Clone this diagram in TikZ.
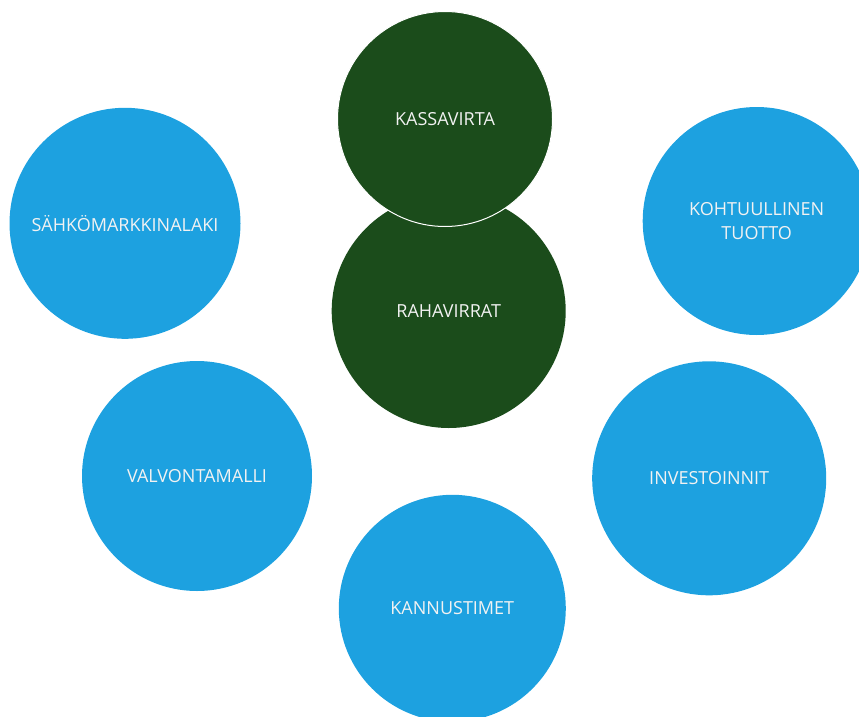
\documentclass[tikz,border=0pt]{standalone}
\usepackage{fontspec}
\setmainfont{Open Sans}
\definecolor{topicblue}{RGB}{29,161,224}
\definecolor{flowgreen}{RGB}{27,76,27}
\definecolor{labelwhite}{RGB}{242,242,242}
\begin{document}
\begin{tikzpicture}[x=1pt,y=-1pt,
  bubble/.style={circle,inner sep=0pt,text=labelwhite,align=center,
    font=\fontsize{18}{24}\selectfont},
  topic/.style={bubble,fill=topicblue},
  flow/.style={bubble,fill=flowgreen}]
\useasboundingbox (0,0) rectangle (859,717);
\clip (0,0) rectangle (859,717);
% central cash-flow pair
\node[flow,minimum size=234pt] (raha) at (448.7,311) {RAHAVIRRAT};
\node[flow,minimum size=215pt,draw=white,line width=1pt] (kassa) at (445,119) {KASSAVIRTA};
% surrounding topics
\node[topic,minimum size=231pt] (laki) at (125,223.3) {SÄHKÖMARKKINALAKI};
\node[topic,minimum size=228pt] (tuotto) at (756.7,221) {KOHTUULLINEN\\TUOTTO};
\node[topic,minimum size=230pt] (malli) at (197,476) {VALVONTAMALLI};
\node[topic,minimum size=234pt] (invest) at (709.2,478.3) {INVESTOINNIT};
\node[topic,minimum size=227pt] (kannus) at (452.3,608.3) {KANNUSTIMET};
\end{tikzpicture}
\end{document}
